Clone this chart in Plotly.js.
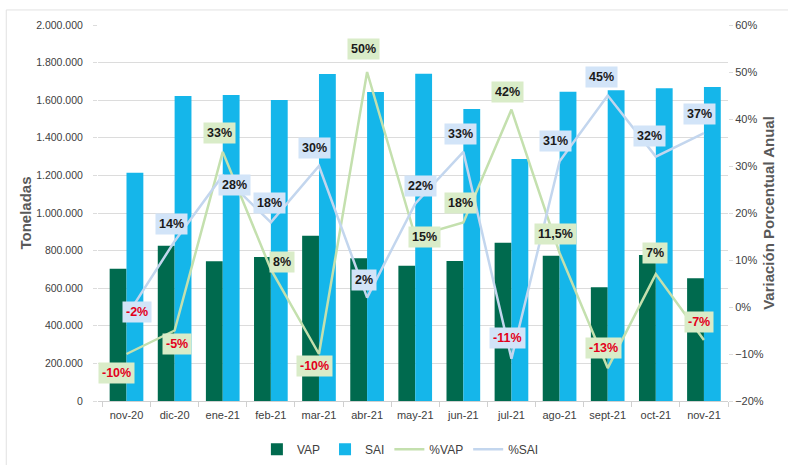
<!DOCTYPE html>
<html><head><meta charset="utf-8">
<script src="https://cdn.plot.ly/plotly-3.0.1.min.js"></script>
<style>html,body{margin:0;padding:0;background:#fff;}#chart{width:788px;height:465px;}</style>
</head><body><div id="chart"></div>
<script>
const categories = ['nov-20','dic-20','ene-21','feb-21','mar-21','abr-21','may-21','jun-21','jul-21','ago-21','sept-21','oct-21','nov-21'];
const vap = [703000, 826000, 743000, 766000, 879000, 759000, 720000, 745000, 842000, 773000, 605000, 777000, 653000];
const sai = [1214000, 1622000, 1628000, 1601000, 1739000, 1644000, 1741000, 1553000, 1287000, 1645000, 1653000, 1663000, 1670000];
const pctVap = [-10, -5, 33, 8, -10, 50, 15, 18, 42, 11.5, -13, 7, -7];
const pctSai = [-2, 14, 28, 18, 30, 2, 22, 33, -11, 31, 45, 32, 37];

// label offsets (pixels) – layout only
const vapDx = [-10, 2, -3, 11, -4, -4, 9, -3, -4, -4, -4, -1, -5];
const vapDy = [-19, -13, 19, 7, -12, 23, 0, 19, 18, 19, 20, 21, 18];
const saiDx = [10, -3, 12, -1, -4, -3, 5, -3, -4, -4, -6, -6, -4];
const saiDy = [4, 17, -10, 19, 18, 18, 18, 18, 21, 20, 19, 21, 19];

const fontFam = '"Liberation Sans Narrow", "Liberation Sans", Arial, sans-serif';
const fmtPct = v => String(v).replace('.', ',') + '%';

const traces = [
  {type:'bar', name:'VAP', x:categories, y:vap, marker:{color:'#006a4e'}, yaxis:'y'},
  {type:'bar', name:'SAI', x:categories, y:sai, marker:{color:'#15b6ea'}, yaxis:'y'},
  {type:'scatter', mode:'lines', name:'%VAP', x:categories, y:pctVap, yaxis:'y2',
   line:{color:'#c4e0ae', width:2.5}},
  {type:'scatter', mode:'lines', name:'%SAI', x:categories, y:pctSai, yaxis:'y2',
   line:{color:'#c3d6ee', width:2.5}}
];

const annotations = [];
function addLabels(vals, dx, dy, bg) {
  vals.forEach((v, i) => {
    annotations.push({
      x: categories[i], y: v, xref:'x', yref:'y2', showarrow:false,
      text: '<b>' + fmtPct(v) + '</b>',
      font:{family:fontFam, size:12.5, color: v < 0 ? '#e3001b' : '#1a1a1a'},
      bgcolor: bg, borderpad: 3, xshift: dx[i], yshift: dy[i]
    });
  });
}
addLabels(pctVap, vapDx, vapDy, '#d9ecc8');
addLabels(pctSai, saiDx, saiDy, '#d2e4f8');

const layout = {
  width:788, height:465,
  margin:{l:98, r:60, t:25, b:64, autoexpand:false},
  paper_bgcolor:'#ffffff', plot_bgcolor:'#ffffff',
  separators: ',.',
  barmode:'group', bargap:0.3, bargroupgap:0,
  font:{family:fontFam, size:11, color:'#404040'},
  xaxis:{type:'category', showgrid:false, showline:true, linecolor:'#d0d0d0', linewidth:1,
    ticks:'outside', ticklen:5, tickcolor:'#d0d0d0', tickson:'boundaries', ticklabelstandoff:4,
    tickfont:{family:fontFam, size:11, color:'#404040'}},
  yaxis:{range:[0, 2000000], dtick:200000, tickformat:',d', showgrid:true, gridcolor:'#dcdcdc', gridwidth:1,
    zeroline:false, showline:false, ticks:'outside', ticklen:4, tickcolor:'#dcdcdc', ticklabelstandoff:8,
    tickfont:{family:fontFam, size:10.5, color:'#404040'},
    title:{text:'<b>Toneladas</b>', font:{family:'"Liberation Sans", Arial, sans-serif', size:15, color:'#595959'}, standoff:0}},
  yaxis2:{overlaying:'y', side:'right', range:[-20, 60], dtick:10, ticksuffix:'%', showgrid:false, zeroline:false,
    showline:false, ticks:'outside', ticklen:4, tickcolor:'#dcdcdc',
    tickfont:{family:fontFam, size:11, color:'#404040'},
    title:{text:'<b>Variación Porcentual Anual</b>', font:{family:'"Liberation Sans", Arial, sans-serif', size:15, color:'#595959'}, standoff:0}},
  legend:{orientation:'h', x:0.48, xanchor:'center', yref:'container', y:0.034, yanchor:'middle',
    font:{family:fontFam, size:12, color:'#404040'}, traceorder:'normal', itemwidth:30},
  annotations: annotations,
  shapes:[{type:'rect', xref:'paper', yref:'paper', x0:-0.1456, x1:1.3, y0:-0.3, y1:1.04,
    line:{color:'#e2e2e2', width:1}, fillcolor:'rgba(0,0,0,0)', layer:'below'}]
};

Plotly.newPlot('chart', traces, layout, {displayModeBar:false, staticPlot:true});
</script></body></html>
